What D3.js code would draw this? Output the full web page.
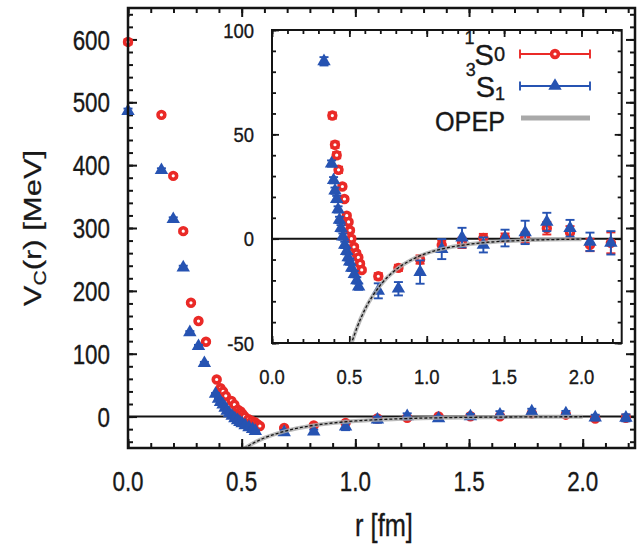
<!DOCTYPE html>
<html>
<head>
<meta charset="utf-8">
<script src="https://cdn.jsdelivr.net/npm/d3@7"></script>
<style>
  body { margin: 0; background: #fff; }
  text { font-family: "Liberation Sans", Arial, Helvetica, sans-serif; fill: #181818; stroke: #181818; stroke-width: 0.35px; }
</style>
</head>
<body>
<svg id="chart" width="644" height="544"></svg>
<script>
// Central potential V_C(r) in the 1S0 and 3S1 channels, with the one-pion-exchange curve.

// 1S0 channel: r [fm], V_C [MeV], error [MeV]
const s0R = [0.000, 0.147, 0.199, 0.243, 0.277, 0.310, 0.343, 0.390, 0.407, 0.418, 0.430, 0.455, 0.468,
             0.483, 0.495, 0.504, 0.513, 0.530, 0.545, 0.558, 0.569, 0.580, 0.687, 0.817, 0.957, 1.097,
             1.228, 1.366, 1.506, 1.636, 1.776, 1.926, 2.055, 2.190];
const s0V = [596, 480, 383, 295, 181, 152, 119, 59, 45, 40, 33, 25, 19,
             11, 8, 4, 0, -4, -7, -9, -12, -15, -18, -14, -10, -3,
             -2, 0.3, 0.5, 0.5, 5, 3, -3, -2];
const s0E = [4, 3, 3, 3, 2, 2, 2, 1.5, 1.5, 1.5, 1.5, 1, 1,
             1, 1, 1, 1, 1, 1, 1, 1, 1, 1.5, 1.5, 2, 2,
             2.5, 2, 2, 2.5, 3, 3, 3, 5];

// 3S1 channel: r [fm], V_C [MeV], error [MeV]
const s1R = [0.000, 0.147, 0.199, 0.243, 0.272, 0.310, 0.336, 0.385, 0.398, 0.407, 0.418, 0.427, 0.436,
             0.446, 0.458, 0.470, 0.482, 0.492, 0.502, 0.515, 0.532, 0.548, 0.560, 0.687, 0.817, 0.957,
             1.097, 1.228, 1.366, 1.506, 1.636, 1.776, 1.926, 2.055, 2.190];
const s1V = [486, 392, 314, 237, 134, 112, 85, 36, 28, 23, 19, 14, 9,
             5, 1, -3, -6, -9, -11, -14, -17, -20, -23, -25, -24, -16,
             -5, 0.5, -3, 0.3, 3, 8, 5, -1.5, -2];
const s1E = [4, 3, 3, 3, 2, 2, 2, 1.5, 1.5, 1.5, 1.5, 1.5, 1.5,
             1.5, 1.5, 1.5, 1.5, 1.5, 1.5, 1.5, 1.5, 1.5, 1.5, 3.6, 3.2, 5.6,
             4.8, 4.7, 3.6, 4, 5.6, 4.4, 4, 4.4, 5.6];

// One-pion-exchange potential curve
const opepR = [0.51, 0.55, 0.60, 0.65, 0.70, 0.80, 0.90, 1.00, 1.10, 1.25, 1.40, 1.60, 1.80, 2.00];
const opepV = [-51.0, -42.5, -34.0, -27.5, -22.3, -14.9, -10.2, -7.0, -4.9, -2.9, -1.7, -0.9, -0.45, -0.24];

// Tick values and labels
const mainXTicks = [0, 0.5, 1.0, 1.5, 2.0];
const mainXLabels = ["0.0", "0.5", "1.0", "1.5", "2.0"];
const mainYTicks = [0, 100, 200, 300, 400, 500, 600];
const mainYLabels = ["0", "100", "200", "300", "400", "500", "600"];
const insetXTicks = [0, 0.5, 1.0, 1.5, 2.0];
const insetXLabels = ["0.0", "0.5", "1.0", "1.5", "2.0"];
const insetYTicks = [-50, 0, 50, 100];
const insetYLabels = ["-50", "0", "50", "100"];

const RED = "#ea2a27", BLUE = "#2653b2", GRAY = "#a9a9a9", INK = "#141414";

const svg = d3.select("#chart");
svg.append("rect").attr("width", 644).attr("height", 544).attr("fill", "#fff");

function label(g, txt, px, py, size, sx, anchor) {
  return g.append("text")
    .attr("transform", `translate(${px},${py}) scale(${sx},1)`)
    .attr("text-anchor", anchor)
    .attr("font-size", size)
    .text(txt);
}

function panel(cfg) {
  const x = d3.scaleLinear().domain(cfg.xDomain).range([cfg.left, cfg.right]);
  const y = d3.scaleLinear().domain(cfg.yDomain).range([cfg.bottom, cfg.top]);
  const g = svg.append("g");
  const w = cfg.right - cfg.left, h = cfg.bottom - cfg.top;

  g.append("rect").attr("x", cfg.left).attr("y", cfg.top).attr("width", w).attr("height", h).attr("fill", "#fff");
  g.append("clipPath").attr("id", cfg.id + "-clip")
    .append("rect").attr("x", cfg.left).attr("y", cfg.top).attr("width", w).attr("height", h);

  // inward ticks on all four sides
  const tickGroup = (axis, tr) => g.append("g").attr("transform", tr).call(axis)
    .call(s => {
      s.select(".domain").remove();
      s.selectAll("text").remove();
      s.selectAll("line").attr("stroke", INK).attr("stroke-width", cfg.tickW);
    });
  const xMinor = x.ticks(cfg.xMinorCount), yMinor = y.ticks(cfg.yMinorCount);
  [[d3.axisBottom, `translate(0,${cfg.bottom})`], [d3.axisTop, `translate(0,${cfg.top})`]].forEach(([f, tr]) => {
    tickGroup(f(x).tickValues(xMinor).tickSize(-cfg.minorLen), tr);
    tickGroup(f(x).tickValues(cfg.xTicks).tickSize(-cfg.majorLen), tr);
  });
  [[d3.axisLeft, `translate(${cfg.left},0)`], [d3.axisRight, `translate(${cfg.right},0)`]].forEach(([f, tr]) => {
    tickGroup(f(y).tickValues(yMinor).tickSize(-cfg.minorLen), tr);
    tickGroup(f(y).tickValues(cfg.yTicks).tickSize(-cfg.majorLen), tr);
  });

  // tick labels
  cfg.xTicks.forEach((v, i) => label(g, cfg.xLabels[i], x(v), cfg.xLabelBase, cfg.fontSize, cfg.fontSx, "middle"));
  cfg.yTicks.forEach((v, i) => label(g, cfg.yLabels[i], cfg.yLabelRight, y(v) + cfg.fontSize * 0.36, cfg.fontSize, cfg.fontSx, "end"));

  // zero line
  g.append("line").attr("x1", cfg.left).attr("x2", cfg.right).attr("y1", y(0)).attr("y2", y(0))
    .attr("stroke", INK).attr("stroke-width", 2);

  const inY = v => v >= cfg.yDomain[0] && v <= cfg.yDomain[1];

  // data series
  function series(rs, vs, es, color, kind) {
    const pts = rs.map((r, i) => ({ r, v: vs[i], e: es[i] })).filter(p => inY(p.v));
    const s = g.append("g");
    const eb = s.append("g").attr("stroke", color).attr("stroke-width", 1.9);
    const cap = 4.5;
    eb.selectAll("line.v").data(pts).join("line").attr("class", "v")
      .attr("x1", p => x(p.r)).attr("x2", p => x(p.r))
      .attr("y1", p => y(p.v - p.e)).attr("y2", p => y(p.v + p.e));
    ["lo", "hi"].forEach(k => {
      eb.selectAll("line." + k).data(pts).join("line").attr("class", k)
        .attr("x1", p => x(p.r) - cap).attr("x2", p => x(p.r) + cap)
        .attr("y1", p => y(k === "lo" ? p.v - p.e : p.v + p.e))
        .attr("y2", p => y(k === "lo" ? p.v - p.e : p.v + p.e));
    });
    if (kind === "circle") {
      s.selectAll("circle").data(pts).join("circle")
        .attr("cx", p => x(p.r)).attr("cy", p => y(p.v)).attr("r", 3.4)
        .attr("fill", "#fff").attr("stroke", color).attr("stroke-width", 3.6);
    } else {
      const tri = d3.symbol(d3.symbolTriangle, 78);
      s.selectAll("path").data(pts).join("path")
        .attr("transform", p => `translate(${x(p.r)},${y(p.v)})`)
        .attr("d", tri).attr("fill", color);
    }
  }
  series(s0R, s0V, s0E, RED, "circle");
  series(s1R, s1V, s1E, BLUE, "triangle");

  // OPEP curve
  const opep = opepR.map((r, i) => [r, opepV[i]]);
  const line = d3.line().x(d => x(d[0])).y(d => y(d[1])).curve(d3.curveMonotoneX);
  const cg = g.append("g").attr("clip-path", `url(#${cfg.id}-clip)`);
  cg.append("path").attr("d", line(opep)).attr("fill", "none").attr("stroke", GRAY).attr("stroke-width", 4).attr("stroke-opacity", 0.8);
  cg.append("path").attr("d", line(opep)).attr("fill", "none").attr("stroke", INK).attr("stroke-width", 1.3).attr("stroke-dasharray", "3,2");

  // frame
  g.append("rect").attr("x", cfg.left).attr("y", cfg.top).attr("width", w).attr("height", h)
    .attr("fill", "none").attr("stroke", INK).attr("stroke-width", cfg.frameW);

  return { g, x, y };
}

// main panel
panel({
  id: "main", left: 128, right: 635, top: 8, bottom: 448,
  xDomain: [0, 2.23], yDomain: [-50, 650],
  xTicks: mainXTicks, xLabels: mainXLabels, yTicks: mainYTicks, yLabels: mainYLabels,
  xMinorCount: 22, yMinorCount: 35, minorLen: 5, majorLen: 9, tickW: 2, frameW: 2.5,
  fontSize: 28, fontSx: 0.8, xLabelBase: 491, yLabelRight: 110
});

// axis titles
const yTitle = svg.append("text")
  .attr("transform", "translate(41,228) scale(0.8,1) rotate(-90)")
  .attr("text-anchor", "middle").attr("font-size", 31);
yTitle.append("tspan").text("V");
yTitle.append("tspan").attr("font-size", 21).attr("dy", 6).text("C");
yTitle.append("tspan").attr("dy", -6).text("(r) [MeV]");
label(svg, "r [fm]", 384, 536, 31, 0.82, "middle");

// inset panel
panel({
  id: "inset", left: 272, right: 621.7, top: 30, bottom: 343,
  xDomain: [0, 2.26], yDomain: [-50, 100],
  xTicks: insetXTicks, xLabels: insetXLabels, yTicks: insetYTicks, yLabels: insetYLabels,
  xMinorCount: 22, yMinorCount: 15, minorLen: 4, majorLen: 7, tickW: 1.8, frameW: 2,
  fontSize: 21, fontSx: 0.88, xLabelBase: 383.5, yLabelRight: 254
});

// legend
const lg = svg.append("g");
const legX0 = 520, legX1 = 590, legMid = 555;
function legendBar(yy, color) {
  lg.append("line").attr("x1", legX0).attr("x2", legX1).attr("y1", yy).attr("y2", yy).attr("stroke", color).attr("stroke-width", 1.9);
  [legX0, legX1].forEach(xx => lg.append("line").attr("x1", xx).attr("x2", xx).attr("y1", yy - 4.5).attr("y2", yy + 4.5).attr("stroke", color).attr("stroke-width", 1.9));
}
legendBar(54, RED);
lg.append("circle").attr("cx", legMid).attr("cy", 54).attr("r", 3.4).attr("fill", "#fff").attr("stroke", RED).attr("stroke-width", 3.6);
legendBar(86, BLUE);
lg.append("path").attr("transform", `translate(${legMid},86)`).attr("d", d3.symbol(d3.symbolTriangle, 78)).attr("fill", BLUE);
lg.append("line").attr("x1", legX0 + 1).attr("x2", legX1).attr("y1", 118).attr("y2", 118).attr("stroke", GRAY).attr("stroke-width", 5);

// spectroscopic labels: superscript multiplicity, S, subscript J
function term(yBase, sup, sub, subShift, subSize) {
  const t = lg.append("text")
    .attr("transform", `translate(505,${yBase})`)
    .attr("text-anchor", "end").attr("font-size", 29);
  t.append("tspan").attr("font-size", 18).attr("dy", -21).text(sup);
  t.append("tspan").attr("dy", 21).text("S");
  t.append("tspan").attr("font-size", subSize).attr("dy", subShift).text(sub);
}
term(65, "1", "0", -4, 20);
term(97, "3", "1", 3, 18);
label(lg, "OPEP", 505, 131, 28, 0.9, "end");
</script>
</body>
</html>
